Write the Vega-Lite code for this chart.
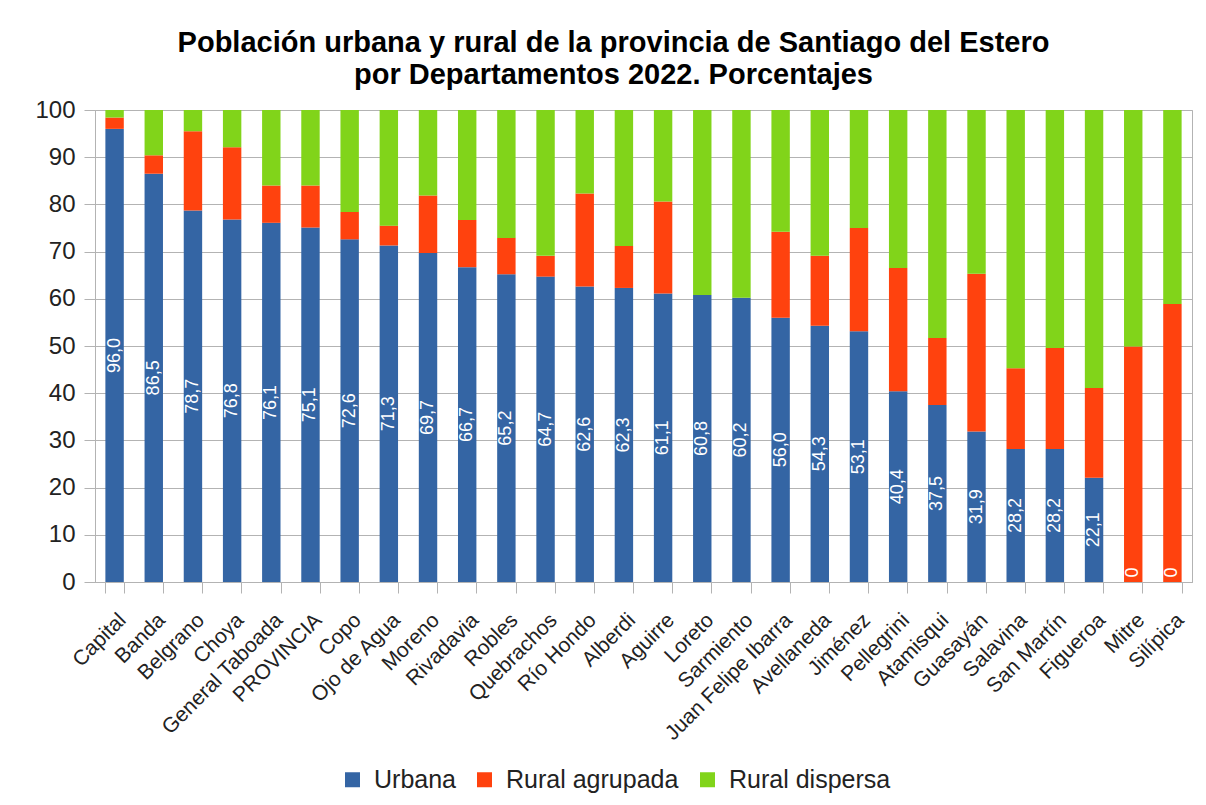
{
  "$schema": "https://vega.github.io/schema/vega-lite/v6.json",
  "width": 1097,
  "height": 472,
  "autosize": "none",
  "padding": {"left": 95, "top": 110, "right": 14, "bottom": 223},
  "background": "white",
  "title": {
    "text": ["Población urbana y rural de la provincia de Santiago del Estero", "por Departamentos 2022. Porcentajes"],
    "font": "Liberation Sans",
    "fontSize": 29,
    "fontWeight": "bold",
    "color": "#000000",
    "anchor": "middle",
    "frame": "group",
    "dx": -30,
    "offset": 8,
    "lineHeight": 32
  },
  "data": {
    "values": [
      {"departamento": "Capital", "Urbana": 96.0, "Rural agrupada": 2.4, "Rural dispersa": 1.6},
      {"departamento": "Banda", "Urbana": 86.5, "Rural agrupada": 3.9, "Rural dispersa": 9.6},
      {"departamento": "Belgrano", "Urbana": 78.7, "Rural agrupada": 16.8, "Rural dispersa": 4.5},
      {"departamento": "Choya", "Urbana": 76.8, "Rural agrupada": 15.3, "Rural dispersa": 7.9},
      {"departamento": "General Taboada", "Urbana": 76.1, "Rural agrupada": 7.9, "Rural dispersa": 16.0},
      {"departamento": "PROVINCIA", "Urbana": 75.1, "Rural agrupada": 8.9, "Rural dispersa": 16.0},
      {"departamento": "Copo", "Urbana": 72.6, "Rural agrupada": 5.8, "Rural dispersa": 21.6},
      {"departamento": "Ojo de Agua", "Urbana": 71.3, "Rural agrupada": 4.2, "Rural dispersa": 24.5},
      {"departamento": "Moreno", "Urbana": 69.7, "Rural agrupada": 12.2, "Rural dispersa": 18.1},
      {"departamento": "Rivadavia", "Urbana": 66.7, "Rural agrupada": 10.0, "Rural dispersa": 23.3},
      {"departamento": "Robles", "Urbana": 65.2, "Rural agrupada": 7.7, "Rural dispersa": 27.1},
      {"departamento": "Quebrachos", "Urbana": 64.7, "Rural agrupada": 4.4, "Rural dispersa": 30.9},
      {"departamento": "Río Hondo", "Urbana": 62.6, "Rural agrupada": 19.7, "Rural dispersa": 17.7},
      {"departamento": "Alberdi", "Urbana": 62.3, "Rural agrupada": 8.9, "Rural dispersa": 28.8},
      {"departamento": "Aguirre", "Urbana": 61.1, "Rural agrupada": 19.5, "Rural dispersa": 19.4},
      {"departamento": "Loreto", "Urbana": 60.8, "Rural agrupada": 0, "Rural dispersa": 39.2},
      {"departamento": "Sarmiento", "Urbana": 60.2, "Rural agrupada": 0, "Rural dispersa": 39.8},
      {"departamento": "Juan Felipe Ibarra", "Urbana": 56.0, "Rural agrupada": 18.2, "Rural dispersa": 25.8},
      {"departamento": "Avellaneda", "Urbana": 54.3, "Rural agrupada": 14.8, "Rural dispersa": 30.9},
      {"departamento": "Jiménez", "Urbana": 53.1, "Rural agrupada": 21.9, "Rural dispersa": 25.0},
      {"departamento": "Pellegrini", "Urbana": 40.4, "Rural agrupada": 26.1, "Rural dispersa": 33.5},
      {"departamento": "Atamisqui", "Urbana": 37.5, "Rural agrupada": 14.2, "Rural dispersa": 48.3},
      {"departamento": "Guasayán", "Urbana": 31.9, "Rural agrupada": 33.4, "Rural dispersa": 34.7},
      {"departamento": "Salavina", "Urbana": 28.2, "Rural agrupada": 17.1, "Rural dispersa": 54.7},
      {"departamento": "San Martín", "Urbana": 28.2, "Rural agrupada": 21.4, "Rural dispersa": 50.4},
      {"departamento": "Figueroa", "Urbana": 22.1, "Rural agrupada": 19.0, "Rural dispersa": 58.9},
      {"departamento": "Mitre", "Urbana": 0, "Rural agrupada": 49.9, "Rural dispersa": 50.1},
      {"departamento": "Silípica", "Urbana": 0, "Rural agrupada": 58.9, "Rural dispersa": 41.1}
    ]
  },
  "transform": [
    {"fold": ["Urbana", "Rural agrupada", "Rural dispersa"], "as": ["tipo", "porcentaje"]},
    {"calculate": "indexof(['Urbana','Rural agrupada','Rural dispersa'], datum.tipo)", "as": "orden"}
  ],
  "layer": [
    {
      "mark": {"type": "bar"},
      "encoding": {
        "x": {
          "field": "departamento",
          "type": "nominal",
          "sort": null,
          "scale": {"paddingInner": 0.53, "paddingOuter": 0.265},
          "axis": {
            "title": null,
            "labelAngle": -45,
            "labelAlign": "right",
            "labelBaseline": "top",
            "labelFontSize": 21,
            "labelColor": "#222222",
            "labelLimit": 0,
            "tickBand": "extent",
            "ticks": true,
            "tickSize": 11,
            "tickColor": "#b3b3b3",
            "domainColor": "#b3b3b3",
            "grid": false,
            "labelPadding": 16
          }
        },
        "y": {
          "field": "porcentaje",
          "type": "quantitative",
          "stack": "zero",
          "scale": {"domain": [0, 100], "nice": false},
          "axis": {
            "title": null,
            "values": [0, 10, 20, 30, 40, 50, 60, 70, 80, 90, 100],
            "labelFontSize": 24,
            "labelColor": "#222222",
            "tickSize": 11,
            "tickColor": "#b3b3b3",
            "gridColor": "#b3b3b3",
            "domainColor": "#b3b3b3",
            "labelPadding": 9,
            "grid": true
          }
        },
        "color": {
          "field": "tipo",
          "type": "nominal",
          "scale": {"domain": ["Urbana", "Rural agrupada", "Rural dispersa"], "range": ["#3465a4", "#ff420e", "#81d41a"]},
          "legend": {
            "title": null,
            "orient": "none",
            "direction": "horizontal",
            "legendX": 245,
            "legendY": 657,
            "symbolType": "square",
            "symbolSize": 225,
            "symbolStrokeWidth": 0,
            "labelFontSize": 25,
            "labelLimit": 0,
            "labelColor": "#222222",
            "columnPadding": 16,
            "labelOffset": 9
          }
        },
        "order": {"field": "orden"}
      }
    },
    {
      "transform": [
        {"filter": "datum.tipo === 'Urbana'"},
        {"calculate": "max(datum.porcentaje / 2, 2)", "as": "medio"},
        {"calculate": "datum.porcentaje == 0 ? '0' : replace(format(datum.porcentaje, '.1f'), '.', ',')", "as": "etiqueta"}
      ],
      "mark": {"type": "text", "angle": 270, "color": "white", "fontSize": 18, "align": "center", "baseline": "middle"},
      "encoding": {
        "x": {"field": "departamento", "type": "nominal", "sort": null},
        "y": {"field": "medio", "type": "quantitative"},
        "text": {"field": "etiqueta", "type": "nominal"}
      }
    }
  ],
  "config": {
    "font": "Liberation Sans",
    "view": {"stroke": "#b3b3b3"},
    "axis": {"labelFont": "Liberation Sans"},
    "legend": {"labelFont": "Liberation Sans"}
  }
}
